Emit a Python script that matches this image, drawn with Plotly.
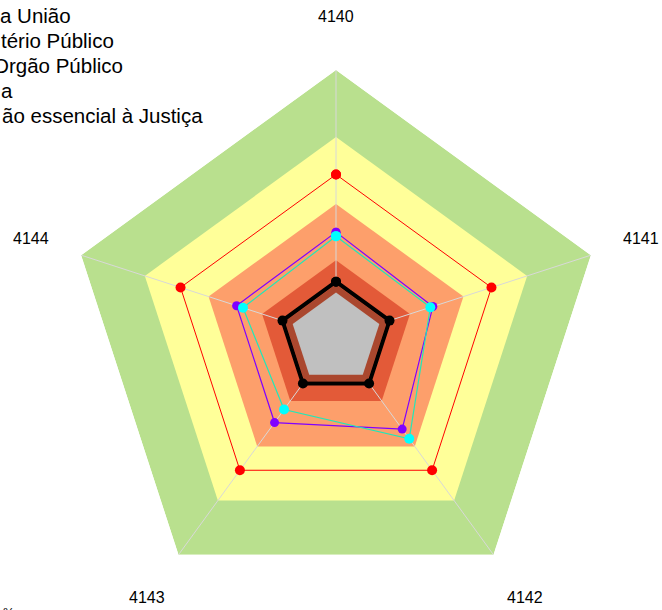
import math
import plotly.graph_objects as go

categories = ["4140", "4141", "4142", "4143", "4144"]

band_green = [100, 100, 100, 100, 100]
band_yellow = [75, 75, 75, 75, 75]
band_orange = [50, 50, 50, 50, 50]
band_dark = [29, 29, 29, 29, 29]
band_brown = [20, 20, 20, 20, 20]
band_gray = [17, 17, 17, 17, 17]

series_red = [61, 61, 61, 61, 61]
series_purple = [39.5, 38, 42, 39, 39]
series_cyan = [38, 37, 46.5, 33, 36.5]
series_black = [21, 21, 21, 21, 21]

legend_labels = ["a União", "tério Público", "Orgão Público", "a", "ão essencial à Justiça"]

W, H = 662, 610
CX, CY, R = 336, 338, 268

# left edge (px) of each visible legend line
legend_left = [-2, -1, -9, -1, 0]


def closed(vals):
    return list(vals) + [vals[0]]


theta_c = closed(categories)
fig = go.Figure()


def band(vals, color):
    fig.add_trace(go.Scatterpolar(r=closed(vals), theta=theta_c, mode="lines",
                                  fill="toself", fillcolor=color,
                                  line=dict(width=0, color=color),
                                  hoverinfo="skip", showlegend=False))


band(band_green, "#B9E08E")
band(band_yellow, "#FFFF99")
band(band_orange, "#FD9F6B")
band(band_dark, "#E35A38")

# spokes
sp_r, sp_t = [], []
for c in categories:
    sp_r += [band_gray[0], band_green[0], None]
    sp_t += [c, c, None]
fig.add_trace(go.Scatterpolar(r=sp_r, theta=sp_t, mode="lines",
                              line=dict(color="#D8D8D8", width=1),
                              hoverinfo="skip", showlegend=False))

band(band_brown, "#AA472E")
band(band_gray, "#C0C0C0")


def line(vals, color, width, msize, mcolor=None):
    fig.add_trace(go.Scatterpolar(r=closed(vals), theta=theta_c, mode="lines+markers",
                                  line=dict(color=color, width=width),
                                  marker=dict(color=mcolor or color, size=msize),
                                  showlegend=False))


line(series_red, "#FF0000", 1, 10)
line(series_purple, "#8000FF", 1.2, 9)
line(series_cyan, "#20E8B8", 1.2, 10, "#00FFFF")
line(series_black, "#000000", 4, 10)

# angular labels
ann = []
for i, c in enumerate(categories):
    a = math.radians(i * 72)
    px = CX + 321 * math.sin(a)
    py = CY - 321 * math.cos(a)
    ann.append(dict(text=c, x=px / W, y=1 - py / H, xref="paper", yref="paper",
                    showarrow=False, xanchor="center", yanchor="middle",
                    font=dict(size=16, color="#000000")))

for i, t in enumerate(legend_labels):
    py = 15.5 + 25 * i
    ann.append(dict(text=t, x=legend_left[i] / W, y=1 - py / H, xref="paper", yref="paper",
                    showarrow=False, xanchor="left", yanchor="middle",
                    font=dict(size=20.5, color="#000000")))

ann.append(dict(text="%", x=1 / W, y=-2 / H, xref="paper", yref="paper",
                showarrow=False, xanchor="left", yanchor="middle",
                font=dict(size=13, color="#000000")))

fig.update_layout(
    width=W, height=H,
    margin=dict(l=0, r=0, t=0, b=0),
    paper_bgcolor="white",
    font=dict(family="Liberation Sans, Arial, sans-serif"),
    showlegend=False,
    annotations=ann,
    polar=dict(
        domain=dict(x=[(CX - R) / W, (CX + R) / W], y=[1 - (CY + R) / H, 1 - (CY - R) / H]),
        bgcolor="white",
        gridshape="linear",
        radialaxis=dict(visible=False, range=[0, 100]),
        angularaxis=dict(rotation=90, direction="clockwise", showgrid=False,
                         showline=False, showticklabels=False, ticks=""),
    ),
)

fig.write_html("out.html", config={"displayModeBar": False},
               post_script="document.body.style.margin='0';")
